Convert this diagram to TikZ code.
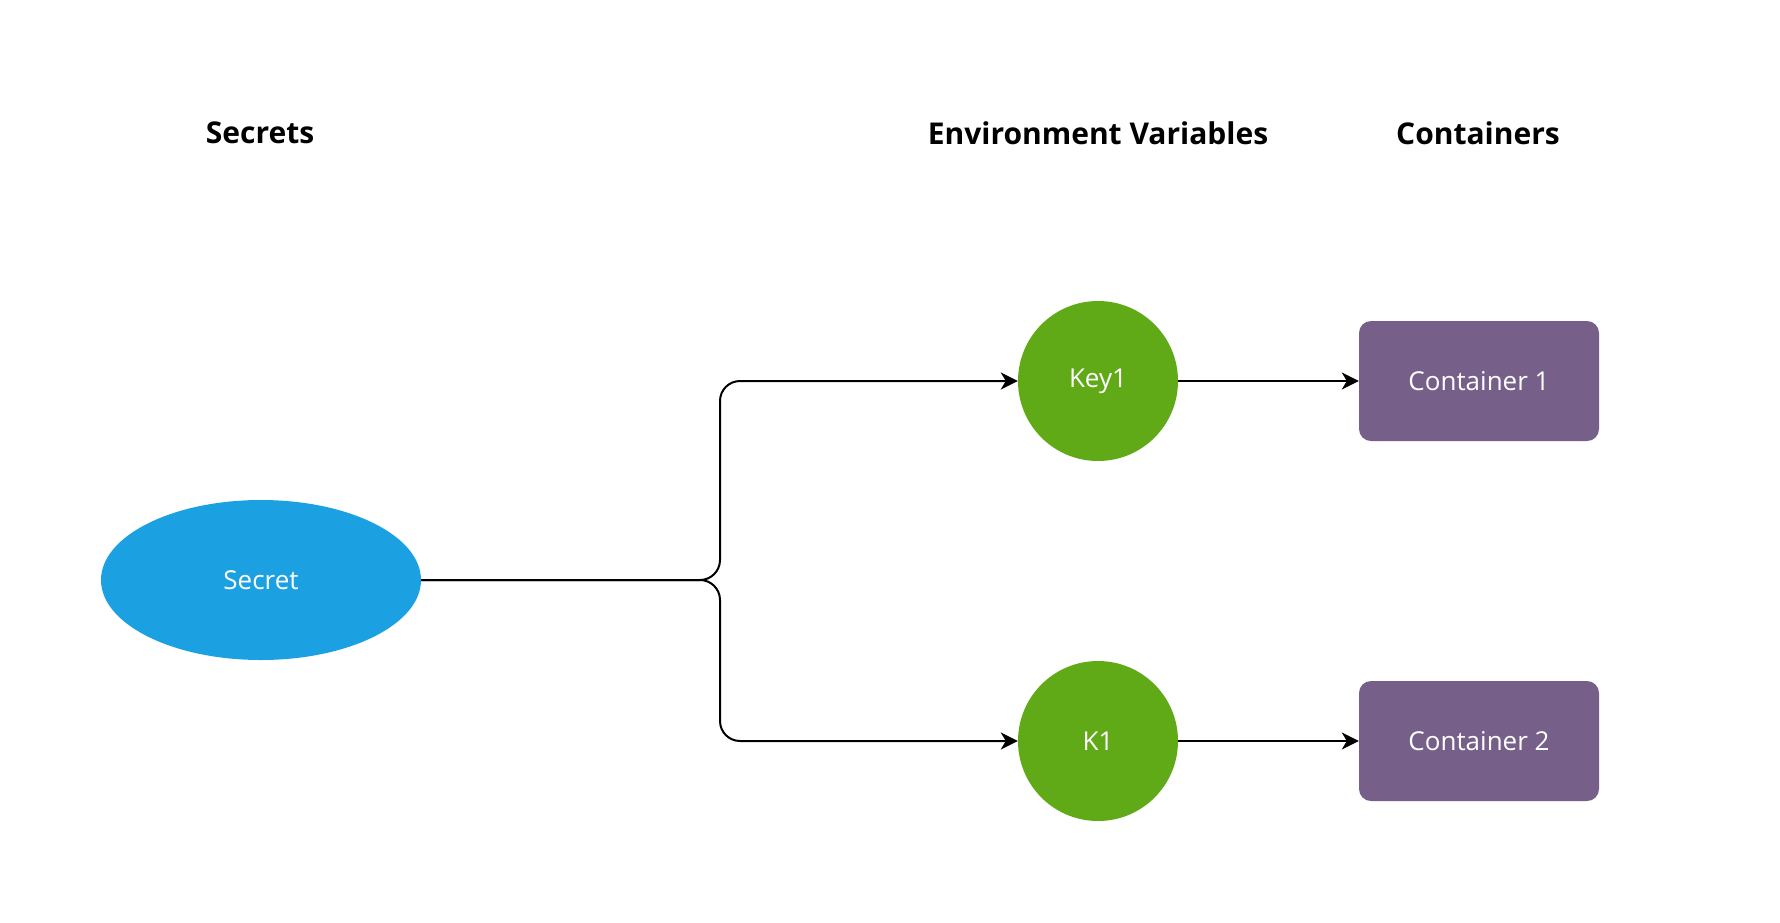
\documentclass[tikz,border=0pt]{standalone}
\usepackage{fontspec}
\setmainfont{Open Sans}
\usetikzlibrary{arrows.meta,positioning,shapes.geometric}
\definecolor{secretblue}{HTML}{1BA1E2}
\definecolor{envgreen}{HTML}{60A917}
\definecolor{ctrpurple}{HTML}{76608A}
\tikzset{
  base/.style={font=\fontsize{26}{30}\selectfont, align=center, text=white, inner sep=0pt},
  title/.style={font=\fontsize{30}{36}\selectfont\bfseries, text=black, inner sep=0pt},
  secret/.style={base, ellipse, fill=secretblue, minimum width=320pt, minimum height=160pt},
  envvar/.style={base, circle, fill=envgreen, minimum size=160pt},
  ctr/.style={base, rectangle, rounded corners=12pt, fill=ctrpurple, minimum width=240pt, minimum height=120pt},
  arr/.style={-{Stealth[length=17pt,width=17pt,inset=5pt]}, line width=2pt, draw=black},
}

\begin{document}
\begin{tikzpicture}[x=1pt,y=-1pt]
  \useasboundingbox (0,0) rectangle (1780,922);
  % column headings
  \node[title] (ttlsecrets) at (260,133) {Secrets};
  \node[title] (ttlenv) at (1098,133) {Environment Variables};
  \node[title] (ttlctr) at (1478,133) {Containers};
  % shapes
  \node[secret] (secret) at (261,580) {Secret};
  \node[envvar] (key1) at (1098,381) {Key1};
  \node[envvar] (k1) at (1098,741) {K1};
  \node[ctr] (ctr1) at (1479,381) {Container 1};
  \node[ctr] (ctr2) at (1479,741) {Container 2};
  % connectors
  \coordinate (split) at (720,580);
  \draw[arr, rounded corners=20pt] (secret.east) -- (split) |- (key1.west);
  \draw[arr, rounded corners=20pt] (secret.east) -- (split) |- (k1.west);
  \draw[arr] (key1) -- (ctr1);
  \draw[arr] (k1) -- (ctr2);
\end{tikzpicture}
\end{document}
